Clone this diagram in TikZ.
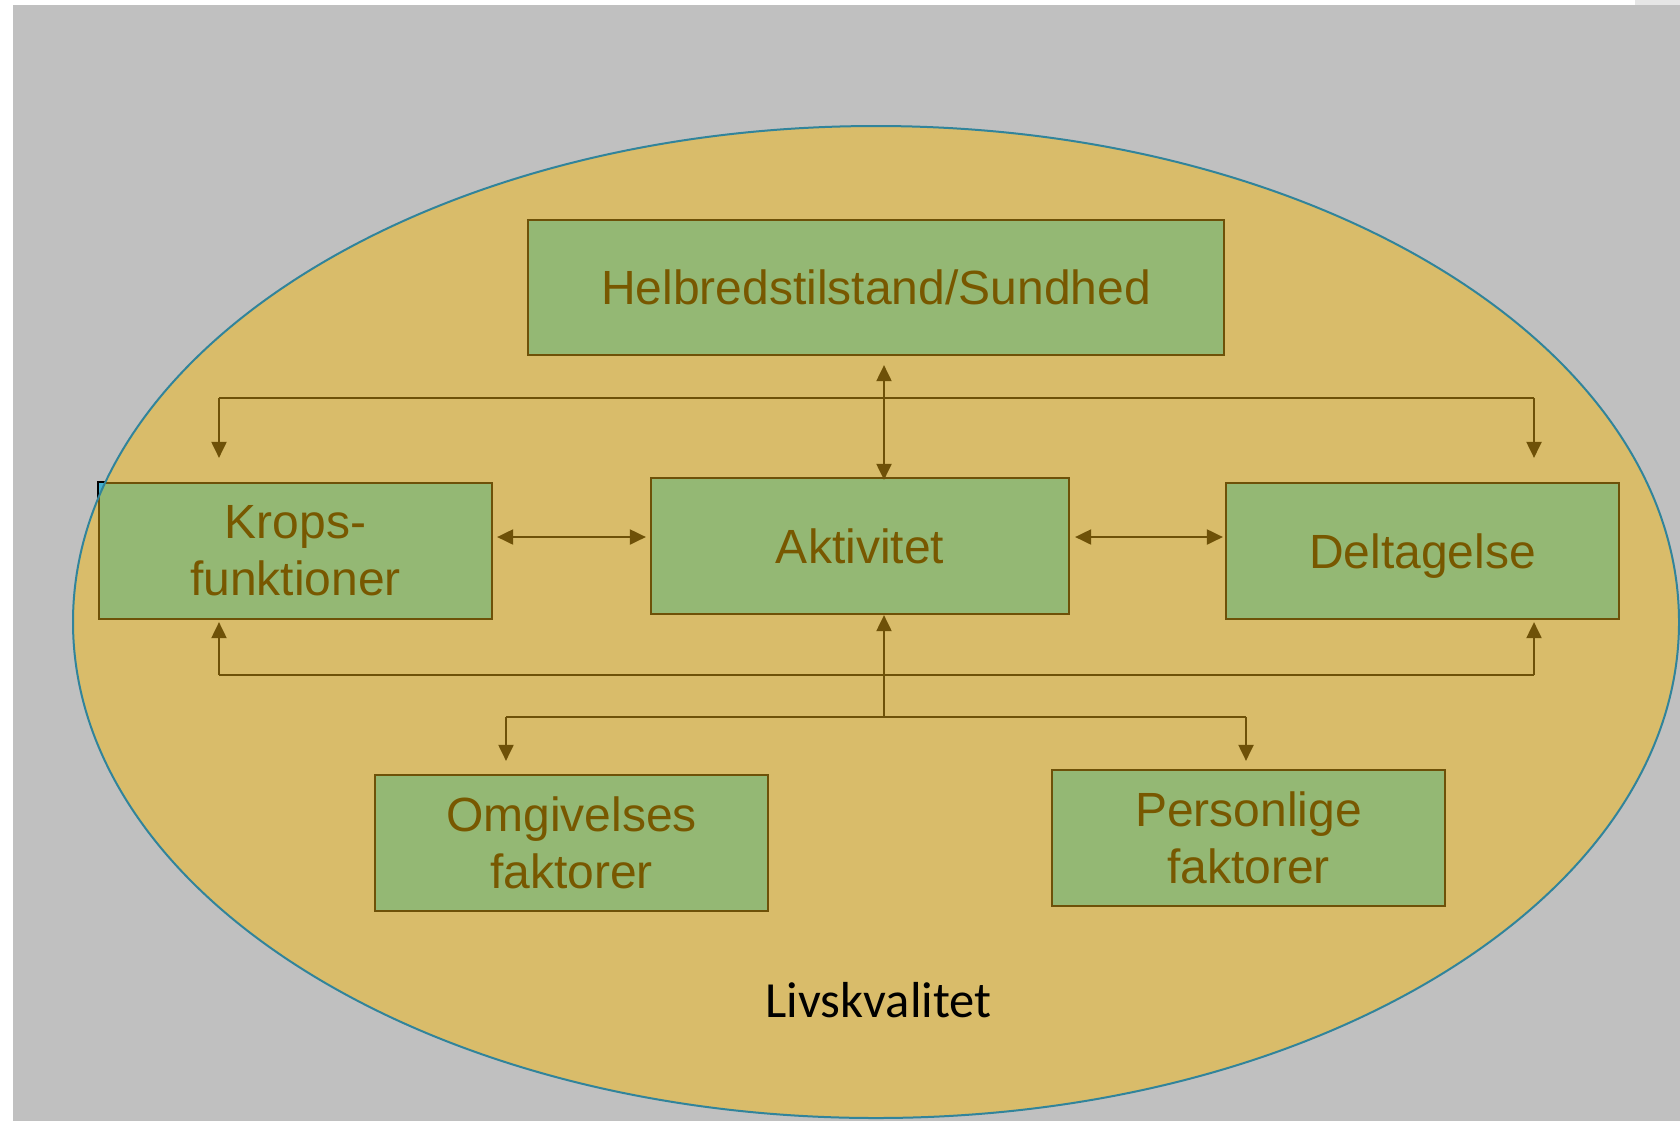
\documentclass[tikz,border=0pt]{standalone}
\usepackage{fontspec}
\setmainfont{Liberation Sans}
\newfontfamily\labelfont{Carlito}
\usetikzlibrary{arrows.meta,calc}
\definecolor{slidegray}{HTML}{C0C0C0}
\definecolor{edgegray}{HTML}{E6E6E6}
\definecolor{lifefill}{HTML}{D9BC6A}
\definecolor{lifeline}{HTML}{31849B}
\definecolor{boxfill}{HTML}{94B874}
\definecolor{boxline}{HTML}{6E5108}
\definecolor{boxtext}{HTML}{785800}
\definecolor{linkc}{HTML}{6E5108}
\definecolor{cornerc}{HTML}{45B0D0}
\begin{document}
\begin{tikzpicture}[x=0.5pt,y=-0.5pt,
  box/.style={draw=boxline, fill=boxfill, line width=1.1pt, text=boxtext,
    font=\fontsize{24}{28.5}\selectfont, align=center, inner sep=0pt,
    minimum width=196.5pt, minimum height=68pt},
  link/.style={draw=linkc, line width=1pt},
  tip/.style={-{Triangle[width=7.5pt,length=8pt]}},
  twotip/.style={{Triangle[width=7.5pt,length=8pt]}-{Triangle[width=7.5pt,length=8pt]}}]
\useasboundingbox (0,0) rectangle (1680,1121);
\clip (0,0) rectangle (1680,1121);
% page and slide background
\fill[white] (0,0) rectangle (1680,1121);
\fill[edgegray] (1635,0) rectangle (1680,5);
\fill[slidegray] (13,5) rectangle (1680,1121);
% quality-of-life ellipse
\fill[lifefill] (876,622) ellipse [x radius=401.5pt, y radius=248pt];

% boxes
\node[box, minimum width=348pt, minimum height=67.5pt] (h) at (876,287.5) {Helbredstilstand/Sundhed};
\node[box] (k) at (295.5,551) {Krops-\\funktioner};
\node[box, minimum width=209pt] (a) at (860,546) {Aktivitet};
\node[box, text depth=0pt] (d) at (1422.5,551) {Deltagelse};
\node[box] (o) at (571.5,843) {Omgivelses\\faktorer};
\node[box] (p) at (1248.5,838) {Personlige\\faktorer};

% corner of the body-functions box lying outside the ellipse
\begin{scope}[even odd rule]
  \clip (0,0) rectangle (1680,1121) (876,622) ellipse [x radius=401.5pt, y radius=248pt];
  \draw[black, fill=cornerc, line width=1.1pt] (k.north west) rectangle (k.south east);
\end{scope}
\draw[lifeline, line width=1pt] (876,622) ellipse [x radius=401.5pt, y radius=248pt];

% junction points
\coordinate (vx) at (884,398);
\coordinate (tl) at (219,398);
\coordinate (tr) at (1534,398);
\coordinate (my) at (0,537);
\coordinate (bl) at (219,675);
\coordinate (br) at (1534,675);
\coordinate (jx) at (884,717);
\coordinate (jl) at (506,717);
\coordinate (jr) at (1246,717);

% health <-> activity
\draw[link, twotip, shorten <=4.5pt, shorten >=-1.5pt] (vx |- h.south) -- (vx |- a.north);
% upper distribution line
\draw[link] (tl) -- (tr);
\draw[link, tip, shorten >=12pt] (tl) -- (tl |- k.north);
\draw[link, tip, shorten >=12pt] (tr) -- (tr |- d.north);
% middle row
\draw[link, twotip, shorten <=2pt, shorten >=2pt] (k.east |- my) -- (a.west |- my);
\draw[link, twotip, shorten <=2.5pt, shorten >=1pt] (a.east |- my) -- (d.west |- my);
% lower feedback line
\draw[link] (bl) -- (br);
\draw[link, tip, shorten >=1pt] (bl) -- (bl |- k.south);
\draw[link, tip, shorten >=1pt] (br) -- (br |- d.south);
% contextual factors
\draw[link, tip] (jx) -- (jx |- a.south);
\draw[link] (jl) -- (jr);
\draw[link, tip, shorten >=6.5pt] (jl) -- (jl |- o.north);
\draw[link, tip, shorten >=4pt] (jr) -- (jr |- p.north);

\node[font=\labelfont\fontsize{25.3}{30}\selectfont, text=black] (lq) at (878.5,1000) {Livskvalitet};
\end{tikzpicture}
\end{document}
